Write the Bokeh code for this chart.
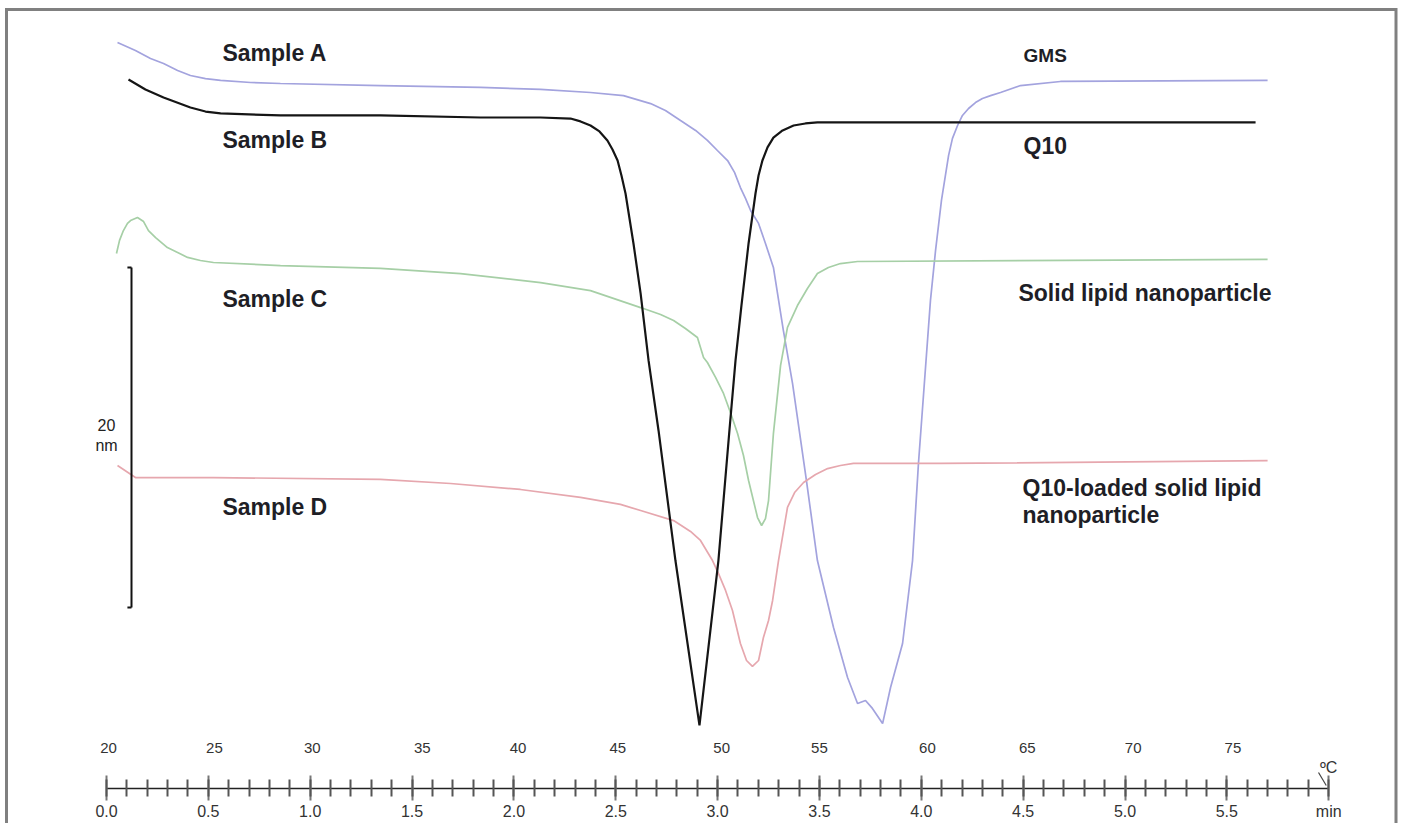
from bokeh.plotting import figure
from bokeh.models import LinearAxis, SingleIntervalTicker, Range1d, PrintfTickFormatter
from bokeh.core.properties import value
from bokeh.embed import file_html
from bokeh.resources import INLINE

# ---------------- data (time in min, signal in arbitrary units) ----------------
gms_t = [0.054, 0.142, 0.216, 0.280, 0.349, 0.412, 0.486, 0.560, 0.707, 0.854, 1.345,
         1.836, 2.131, 2.376, 2.538, 2.671, 2.744, 2.818, 2.892, 2.950, 2.999, 3.049,
         3.083, 3.112, 3.137, 3.162, 3.201, 3.235, 3.274, 3.323, 3.368, 3.436, 3.490,
         3.569, 3.638, 3.687, 3.726, 3.760, 3.810, 3.849, 3.908, 3.957, 3.986, 4.045,
         4.070, 4.099, 4.134, 4.153, 4.178, 4.202, 4.232, 4.266, 4.300, 4.340, 4.389,
         4.487, 4.683, 5.700]
gms_y = [43.88, 43.41, 42.94, 42.65, 42.24, 41.94, 41.76, 41.65, 41.53, 41.47, 41.35,
         41.24, 41.12, 40.94, 40.76, 40.29, 39.88, 39.29, 38.71, 38.12, 37.53, 36.94,
         36.24, 35.35, 34.71, 34.00, 33.24, 32.06, 30.65, 26.94, 23.82, 18.12, 13.41,
         9.47, 6.53, 5.00, 5.18, 4.71, 3.82, 5.94, 8.53, 13.41, 19.12, 28.71,
         31.65, 34.59, 37.24, 38.24, 39.00, 39.59, 40.00, 40.35, 40.59, 40.76, 40.94,
         41.35, 41.59, 41.65]

q10_t = [0.108, 0.191, 0.280, 0.412, 0.486, 0.560, 0.854, 1.345, 1.836, 2.131, 2.278,
         2.327, 2.376, 2.420, 2.459, 2.484, 2.509, 2.528, 2.548, 2.587, 2.622, 2.661,
         2.710, 2.793, 2.911, 3.004, 3.058, 3.088, 3.117, 3.152, 3.186, 3.201, 3.220,
         3.245, 3.274, 3.319, 3.373, 3.431, 3.490, 5.641]
q10_y = [41.71, 41.12, 40.65, 40.06, 39.82, 39.71, 39.59, 39.59, 39.47, 39.47, 39.41,
         39.24, 39.00, 38.65, 38.12, 37.59, 36.94, 36.06, 35.00, 32.06, 29.12, 25.18,
         21.06, 13.41, 3.71, 13.41, 21.06, 25.18, 28.41, 32.06, 35.00, 36.06, 36.94,
         37.71, 38.29, 38.71, 39.00, 39.12, 39.18, 39.18]

sln_t = [0.049, 0.064, 0.083, 0.103, 0.118, 0.152, 0.182, 0.206, 0.241, 0.299, 0.349,
         0.398, 0.461, 0.525, 0.854, 1.345, 1.738, 2.131, 2.376, 2.622, 2.720, 2.784,
         2.842, 2.901, 2.931, 2.950, 2.990, 3.029, 3.063, 3.098, 3.127, 3.152, 3.196,
         3.216, 3.235, 3.250, 3.274, 3.309, 3.343, 3.392, 3.441, 3.490, 3.544, 3.603,
         3.687, 5.700]
sln_y = [31.47, 32.24, 32.82, 33.24, 33.41, 33.59, 33.35, 32.82, 32.41, 31.82, 31.53,
         31.24, 31.06, 30.94, 30.76, 30.59, 30.29, 29.76, 29.29, 28.29, 27.88, 27.53,
         27.06, 26.53, 25.35, 25.06, 24.18, 23.24, 22.12, 20.88, 19.59, 18.12, 15.94,
         15.47, 15.88, 16.94, 20.88, 24.88, 27.12, 28.41, 29.41, 30.29, 30.65, 30.88,
         31.00, 31.12]

qsln_t = [0.054, 0.142, 0.525, 1.345, 1.689, 2.032, 2.327, 2.523, 2.622, 2.784, 2.867,
          2.916, 2.975, 3.004, 3.039, 3.073, 3.112, 3.142, 3.171, 3.201, 3.225, 3.250,
          3.270, 3.299, 3.343, 3.378, 3.422, 3.481, 3.540, 3.603, 3.667, 4.094, 5.700]
qsln_y = [19.00, 18.29, 18.29, 18.18, 17.94, 17.59, 17.12, 16.71, 16.35, 15.76, 15.12,
          14.59, 13.41, 12.65, 11.65, 10.47, 8.53, 7.53, 7.18, 7.53, 8.88, 9.88,
          11.06, 13.41, 16.53, 17.41, 18.00, 18.47, 18.82, 19.00, 19.12, 19.12, 19.29]

temp_labels = ["20", "25", "30", "35", "40", "45", "50", "55", "60", "65", "70", "75"]
temp_pos = [0.01, 0.53, 1.01, 1.55, 2.02, 2.51, 3.02, 3.50, 4.03, 4.52, 5.04, 5.53]

scale_value = 20.0
scale_base = 10.65

# ---------------- figure ----------------
W, H = 1402, 823
X0, X1 = -0.5204, 6.3623
Y0, Y1 = -2.0588, 46.353
pxx = W / (X1 - X0)
pxy = H / (Y1 - Y0)

FONT = value("Liberation Sans")

p = figure(width=W, height=H, x_range=Range1d(X0, X1), y_range=Range1d(Y0, Y1),
           x_axis_type=None, y_axis_type=None, output_backend="svg",
           toolbar_location=None, min_border=0, outline_line_color=None,
           background_fill_color="white", border_fill_color="white")

# frame (left, top, right) as an open box
fl, fr = X0 + 6 / pxx, X0 + 1395.5 / pxx
ft, fb = Y1 - 9 / pxy, Y0 - 1
p.line([fl, fl, fr, fr], [fb, ft, ft, fb], line_color="#808080", line_width=3,
       line_join="miter")

# curves
p.line(gms_t, gms_y, line_color="#a3a3de", line_width=1.7)
p.line(sln_t, sln_y, line_color="#a6cfa6", line_width=1.7)
p.line(qsln_t, qsln_y, line_color="#e6a7ae", line_width=1.7)
p.line(q10_t, q10_y, line_color="#151515", line_width=2.2)

# time axis (ruler)
ax = LinearAxis(fixed_location=0, ticker=SingleIntervalTicker(interval=0.5, num_minor_ticks=5),
                bounds=(0, 6), formatter=PrintfTickFormatter(format="%.1f"))
ax.major_label_overrides = {6: "min"}
ax.axis_line_color = "#222222"
ax.axis_line_width = 1.5
ax.major_tick_in = 13
ax.major_tick_out = 12
ax.minor_tick_in = 9
ax.minor_tick_out = 8
ax.major_tick_line_color = "#777777"
ax.major_tick_line_width = 2
ax.minor_tick_line_color = "#555555"
ax.minor_tick_line_width = 2
ax.major_label_text_font = "Liberation Sans"
ax.major_label_text_font_size = "16px"
ax.major_label_text_color = "#333333"
ax.major_label_standoff = 2
p.add_layout(ax, "below")

# temperature labels
p.text(x=temp_pos, y=[2.41] * len(temp_pos), text=temp_labels, text_align="center",
       text_baseline="middle", text_font=FONT, text_font_size="15px", text_color="#333333")
p.text(x=[6.0], y=[1.24], text=["ºC"], text_align="center", text_baseline="middle",
       text_font=FONT, text_font_size="16px", text_color="#333333")
p.segment(x0=[6.0 - 0.05], y0=[0.94], x1=[6.0 - 0.012], y1=[0.18],
          line_color="#444444", line_width=1.2)

# scale bar
sx = 0.1227
hook = 0.02
p.segment(x0=[sx, sx - hook, sx - hook], y0=[scale_base, scale_base, scale_base + scale_value],
          x1=[sx, sx, sx], y1=[scale_base + scale_value, scale_base, scale_base + scale_value],
          line_color="#111111", line_width=2)
p.text(x=[0.0, 0.0], y=[21.41, 20.18], text=["20", "nm"], text_align="center",
       text_baseline="middle", text_font=FONT, text_font_size="16px", text_color="#222222")

# curve labels
lab_x = [0.569, 0.569, 0.569, 0.569, 4.477, 4.497, 4.497]
lab_y = [43.24, 38.12, 28.82, 16.53, 29.12, 17.65, 16.06]
lab_t = ["Sample A", "Sample B", "Sample C", "Sample D", "Solid lipid nanoparticle",
         "Q10-loaded solid lipid", "nanoparticle"]
p.text(x=lab_x, y=lab_y, text=lab_t, text_align="left", text_baseline="middle",
       text_font=FONT, text_font_size="23px", text_font_style="bold", text_color="#1e1e26")
p.text(x=[4.502], y=[37.82], text=["Q10"], text_align="left", text_baseline="middle",
       text_font=FONT, text_font_size="23px", text_font_style="bold", text_color="#1e1e26")
p.text(x=[4.502], y=[43.12], text=["GMS"], text_align="left", text_baseline="middle",
       text_font=FONT, text_font_size="19px", text_font_style="bold", text_color="#1e1e26")

open("out.html", "w").write(file_html(p, INLINE))
